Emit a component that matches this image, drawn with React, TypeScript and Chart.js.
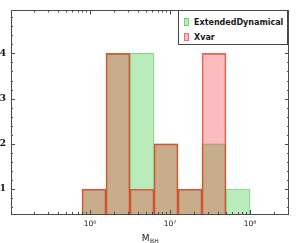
import React, { useEffect, useRef } from "react";
import { Chart, registerables } from "chart.js";

Chart.register(...registerables);

// Histogram bins (log10 of M_BH): lower edges, width 0.3 dex
const binStartExp = [5.9, 6.2, 6.5, 6.8, 7.1, 7.4, 7.7];
const binWidthExp = 0.3;
const extendedDynamical = [1, 4, 4, 2, 1, 2, 1];
const xvar = [1, 4, 1, 2, 1, 4, null];
const xMajorExp = [6, 7, 8];
const yMajor = [1, 2, 3, 4];
const xRange = [5.0125, 8.4875];
const yRange = [0.45, 4.95];

const supDigits: Record<string, string> = { "5": "⁵", "6": "⁶", "7": "⁷", "8": "⁸", "9": "⁹" };

const framePlugin = {
  id: "frameTicks",
  afterDatasetsDraw(chart: any) {
    const { ctx, chartArea: a, scales } = chart;
    const xs = scales.x;
    const ys = scales.y;
    ctx.save();
    ctx.strokeStyle = "#4a4a4a";
    ctx.lineWidth = 1;
    ctx.strokeRect(Math.round(a.left) + 0.5, Math.round(a.top) + 0.5, Math.round(a.right - a.left) - 1, Math.round(a.bottom - a.top));
    ctx.beginPath();
    for (let n = 5; n <= 8; n++) {
      for (let k = 1; k <= 9; k++) {
        const v = n + Math.log10(k);
        if (v < xRange[0] || v > xRange[1]) continue;
        const px = Math.round(xs.getPixelForValue(v)) + 0.5;
        const len = k === 1 ? 4 : 2;
        ctx.moveTo(px, a.bottom);
        ctx.lineTo(px, a.bottom - len);
        ctx.moveTo(px, a.top);
        ctx.lineTo(px, a.top + len);
      }
    }
    for (let i = 0; i <= 50; i++) {
      const v = i * 0.2;
      if (v < yRange[0] || v > yRange[1]) continue;
      const py = Math.round(ys.getPixelForValue(v)) + 0.5;
      const major = Math.abs(v - Math.round(v)) < 1e-6;
      const len = major ? 4 : 2;
      ctx.moveTo(a.left, py);
      ctx.lineTo(a.left + len, py);
      ctx.moveTo(a.right, py);
      ctx.lineTo(a.right - len, py);
    }
    ctx.stroke();
    ctx.fillStyle = "#1a1a1a";
    ctx.textBaseline = "alphabetic";
    ctx.font = "9px 'DejaVu Sans'";
    const mW = ctx.measureText("M").width;
    ctx.font = "6px 'DejaVu Sans'";
    const sW = ctx.measureText("BH").width;
    const cx = (a.left + a.right) / 2;
    const x0 = cx - (mW + sW) / 2;
    ctx.font = "9px 'DejaVu Sans'";
    ctx.fillText("M", x0, 241);
    ctx.font = "6px 'DejaVu Sans'";
    ctx.fillText("BH", x0 + mW + 0.5, 242.5);
    ctx.restore();
  },
};

export default function App() {
  const ref = useRef<HTMLCanvasElement>(null);
  useEffect(() => {
    if (!ref.current) return;
    const centers = binStartExp.map((s) => +(s + binWidthExp / 2).toFixed(3));
    const chart = new Chart(ref.current, {
      type: "bar",
      data: {
        datasets: [
          {
            label: "ExtendedDynamical",
            data: centers.map((x, i) => ({ x, y: extendedDynamical[i] })),
            backgroundColor: "rgb(186,235,186)",
            borderColor: "rgba(110,210,110,0.9)",
            borderWidth: 1,
            order: 1,
            grouped: false,
            categoryPercentage: 1,
            barPercentage: 1,
          } as any,
          {
            label: "Xvar",
            data: centers.map((x, i) => ({ x, y: xvar[i] })),
            backgroundColor: "rgba(240,8,22,0.27)",
            borderColor: "rgba(220,50,20,0.7)",
            borderWidth: 1,
            order: 0,
            grouped: false,
            categoryPercentage: 1,
            barPercentage: 1,
          } as any,
        ],
      },
      options: {
        animation: false,
        responsive: true,
        maintainAspectRatio: false,
        layout: { padding: { top: 5, right: 11, left: 0, bottom: 0 } },
        plugins: { legend: { display: false }, tooltip: { enabled: false } },
        scales: {
          x: {
            type: "linear",
            offset: false,
            min: xRange[0],
            max: xRange[1],
            grid: { display: false, drawTicks: false, offset: false },
            border: { display: false },
            afterBuildTicks: (s: any) => {
              s.ticks = xMajorExp.map((v) => ({ value: v }));
            },
            afterFit: (s: any) => {
              s.height = 29;
            },
            ticks: {
              padding: 6,
              color: "#111",
              font: { family: "'DejaVu Sans'", size: 7.5 },
              callback: (v: any) => "10" + (supDigits[String(v)] || ""),
            },
          },
          y: {
            type: "linear",
            min: yRange[0],
            max: yRange[1],
            grid: { display: false, drawTicks: false },
            border: { display: false },
            afterBuildTicks: (s: any) => {
              s.ticks = yMajor.map((v) => ({ value: v }));
            },
            afterFit: (s: any) => {
              s.width = 11;
            },
            ticks: {
              padding: 5,
              color: "#111",
              font: { family: "'DejaVu Serif'", size: 9, weight: "bold" },
            },
          },
        },
      },
      plugins: [framePlugin],
    });
    return () => chart.destroy();
  }, []);

  const item = (fill: string, stroke: string, text: string, top: number) => (
    <div style={{ position: "absolute", left: 5, top, display: "flex", alignItems: "center", height: 10 }}>
      <div style={{ width: 3, height: 6, background: fill, border: `1px solid ${stroke}` }} />
      <span style={{ marginLeft: 5, font: "bold 8px 'DejaVu Sans'", color: "#1a1a1a", whiteSpace: "nowrap" }}>{text}</span>
    </div>
  );

  return (
    <div style={{ position: "fixed", left: 0, top: 0, width: 300, height: 243, background: "#fff" }}>
      <canvas ref={ref} />
      <div
        style={{
          position: "absolute",
          left: 178,
          top: 10,
          width: 108,
          height: 33,
          border: "1px solid #444",
          background: "#fff",
          boxSizing: "content-box",
        }}
      >
        {item("rgb(186,235,186)", "rgb(110,210,110)", "ExtendedDynamical", 6)}
        {item("rgb(250,188,192)", "rgb(235,110,110)", "Xvar", 21)}
      </div>
    </div>
  );
}
